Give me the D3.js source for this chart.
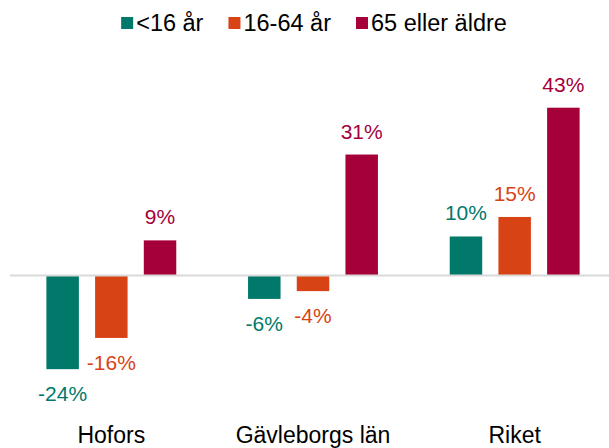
<!DOCTYPE html>
<html>
<head>
<meta charset="utf-8">
<script src="https://cdn.jsdelivr.net/npm/d3@7"></script>
<style>
  body { margin: 0; background: #fff; }
  text { font-family: "Liberation Sans", Arial, sans-serif; }
</style>
</head>
<body>
<div id="chart"></div>
<script>
// data
const categories = ['Hofors', 'Gävleborgs län', 'Riket'];
const series = ['<16 år', '16-64 år', '65 eller äldre'];
const colors = ['#00796b', '#d84315', '#a6003a'];
const valuesUnder16 = [-24, -6, 10];
const values16to64 = [-16, -4, 15];
const values65plus = [9, 31, 43];

const seriesValues = [valuesUnder16, values16to64, values65plus];

const width = 609, height = 448;

const svg = d3.select('#chart').append('svg')
  .attr('width', width)
  .attr('height', height);

// flatten into rows for drawing
const rows = [];
categories.forEach((c, i) => {
  series.forEach((s, j) => {
    rows.push({ cat: c, series: s, idx: j, value: seriesValues[j][i] });
  });
});

const x0 = d3.scaleBand()
  .domain(categories)
  .range([10.5, 615.5]);

const x1 = d3.scaleBand()
  .domain(series)
  .range([0, x0.bandwidth()])
  .paddingInner(0.333)
  .paddingOuter(0.737);

const y = d3.scaleLinear()
  .domain([0, 43])
  .range([275.5, 107.7]);

const color = d3.scaleOrdinal().domain(series).range(colors);

// bars
svg.append('g')
  .selectAll('rect')
  .data(rows)
  .join('rect')
    .attr('x', d => x0(d.cat) + x1(d.series))
    .attr('y', d => y(Math.max(0, d.value)))
    .attr('width', x1.bandwidth())
    .attr('height', d => Math.abs(y(d.value) - y(0)))
    .attr('fill', d => color(d.series));

// zero line
svg.append('line')
  .attr('x1', 10)
  .attr('x2', width)
  .attr('y1', y(0))
  .attr('y2', y(0))
  .attr('stroke', '#d9d9d9')
  .attr('stroke-width', 2);

// value labels
svg.append('g')
  .selectAll('text')
  .data(rows)
  .join('text')
    .attr('x', d => x0(d.cat) + x1(d.series) + x1.bandwidth() / 2)
    .attr('y', d => d.value >= 0 ? y(d.value) - 16 : y(d.value) + 32)
    .attr('text-anchor', 'middle')
    .attr('font-size', 21)
    .attr('fill', d => color(d.series))
    .text(d => d.value + '%');

// category labels
svg.append('g')
  .selectAll('text')
  .data(categories)
  .join('text')
    .attr('x', d => x0(d) + x0.bandwidth() / 2)
    .attr('y', 443)
    .attr('text-anchor', 'middle')
    .attr('font-size', 23)
    .attr('fill', '#000')
    .text(d => d);

// legend
const legend = svg.append('g');
let lx = 0;
series.forEach((s, i) => {
  const g = legend.append('g').attr('transform', `translate(${lx},0)`);
  g.append('rect')
    .attr('x', 0).attr('y', 17)
    .attr('width', 12).attr('height', 12)
    .attr('fill', colors[i]);
  const t = g.append('text')
    .attr('x', 15).attr('y', 31)
    .attr('font-size', 23.5)
    .attr('fill', '#000')
    .text(s);
  lx += 15 + t.node().getComputedTextLength() + 25;
});
const legendWidth = lx - 25;
legend.attr('transform', `translate(${314 - legendWidth / 2},0)`);
</script>
</body>
</html>
